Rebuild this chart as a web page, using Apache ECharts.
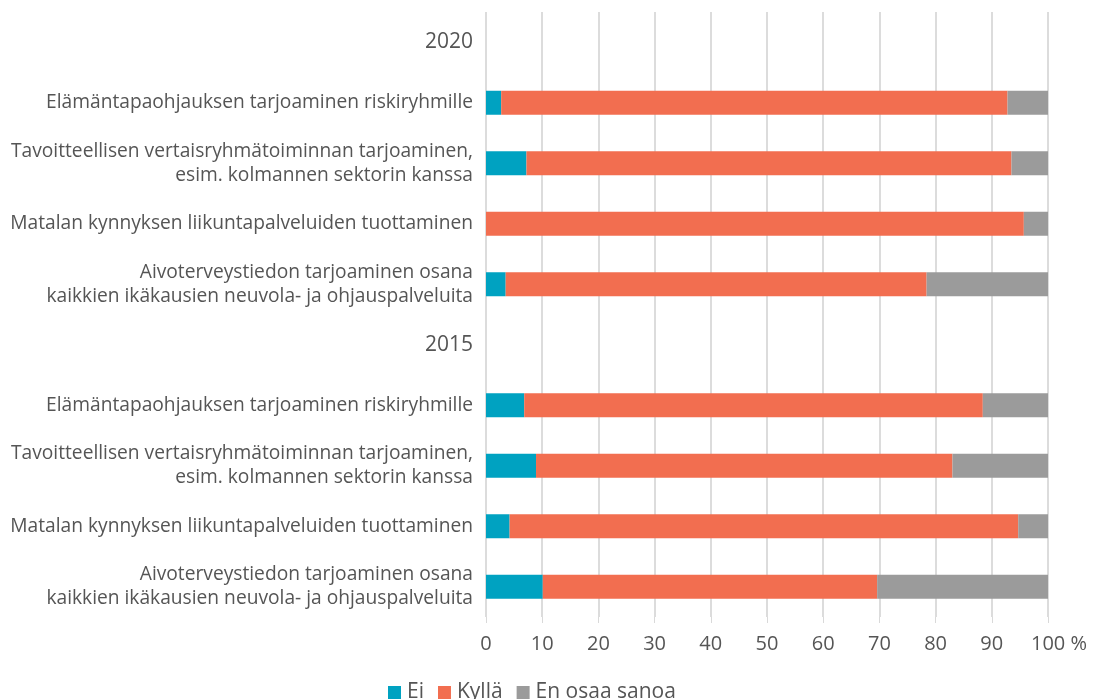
<!DOCTYPE html>
<html><head><meta charset="utf-8">
<script src="https://cdn.jsdelivr.net/npm/echarts@6/dist/echarts.min.js"></script>
<style>html,body{margin:0;padding:0;background:#fff}#c{width:1094px;height:699px}</style>
</head><body><div id="c"></div>
<script>
const categories = [
  '2020',
  'Elämäntapaohjauksen tarjoaminen riskiryhmille',
  'Tavoitteellisen vertaisryhmätoiminnan tarjoaminen,\nesim. kolmannen sektorin kanssa',
  'Matalan kynnyksen liikuntapalveluiden tuottaminen',
  'Aivoterveystiedon tarjoaminen osana\nkaikkien ikäkausien neuvola- ja ohjauspalveluita',
  '2015',
  'Elämäntapaohjauksen tarjoaminen riskiryhmille',
  'Tavoitteellisen vertaisryhmätoiminnan tarjoaminen,\nesim. kolmannen sektorin kanssa',
  'Matalan kynnyksen liikuntapalveluiden tuottaminen',
  'Aivoterveystiedon tarjoaminen osana\nkaikkien ikäkausien neuvola- ja ohjauspalveluita'
];
const yearLabels = ['2020', '2015'];
const seriesNames = ['Ei', 'Kyllä', 'En osaa sanoa'];
const ei    = [null, 2.7, 7.2, 0,    3.5, null, 6.8, 8.9, 4.2, 10.1];
const kylla = [null, 90.1, 86.3, 95.7, 74.9, null, 81.6, 74.1, 90.5, 59.5];
const enOs  = [null, 7.2, 6.5, 4.3,  21.6, null, 11.6, 17.0, 5.3, 30.4];
const xTicks = [0, 10, 20, 30, 40, 50, 60, 70, 80, 90, 100];

const colors = ['#00A2C1', '#F26E50', '#9B9B9B'];
const chart = echarts.init(document.getElementById('c'));
const textColor = '#555555';
const font = "'Open Sans', sans-serif";
const mk = (name, data, color) => ({
  name, type: 'bar', stack: 'total', data, barWidth: 24,
  itemStyle: { color }, emphasis: { disabled: true }
});
chart.setOption({
  animation: false,
  textStyle: { fontFamily: font },
  grid: { left: 486, right: 46, top: 12, bottom: 82, containLabel: false },
  legend: {
    data: seriesNames, top: 677, left: 383,
    itemWidth: 13, itemHeight: 13, itemGap: 14, icon: 'rect',
    textStyle: { fontSize: 21, color: textColor, fontFamily: font, padding: [0, 0, 0, 1] }
  },
  xAxis: {
    type: 'value', min: 0, max: 100, interval: 10,
    axisLine: { show: false },
    axisTick: { show: true, length: 6, lineStyle: { color: '#d9d9d9', width: 1 } },
    splitLine: { show: true, lineStyle: { color: '#dcdcdc', width: 2 } },
    axisLabel: {
      margin: 17, fontSize: 20, color: textColor, fontFamily: font,
      formatter: v => xTicks.includes(v) ? (v === 100 ? '{p|100 %}' : String(v)) : '',
      rich: { p: { fontSize: 20, color: textColor, fontFamily: font, padding: [0, 0, 0, 22] } }
    }
  },
  yAxis: {
    type: 'category', data: categories, inverse: true,
    axisLine: { show: false }, axisTick: { show: false },
    axisLabel: {
      margin: 13, fontSize: 19.2, color: textColor, fontFamily: font, lineHeight: 24, align: 'right',
      formatter: v => yearLabels.includes(v) ? '{y|' + v + '}' : v,
      rich: { y: { fontSize: 21, color: textColor, fontFamily: font, lineHeight: 26 } }
    }
  },
  series: [mk(seriesNames[0], ei, colors[0]), mk(seriesNames[1], kylla, colors[1]), mk(seriesNames[2], enOs, colors[2])]
});
</script></body></html>
